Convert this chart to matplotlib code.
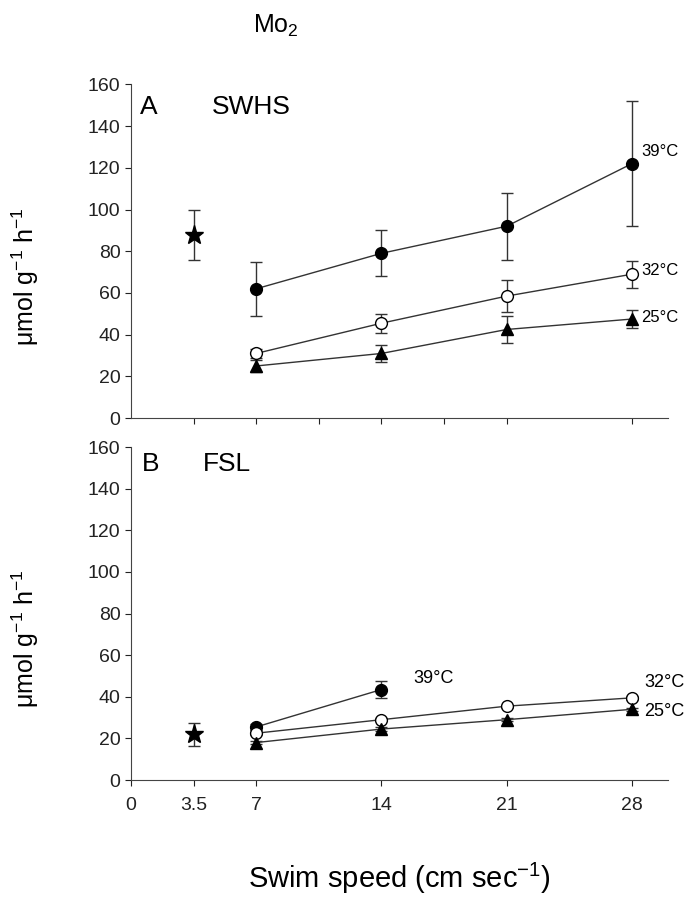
import numpy as np
import matplotlib
matplotlib.use("Agg")
import matplotlib.pyplot as plt

plt.rcParams['font.family'] = ['Liberation Sans', 'DejaVu Sans']
plt.rcParams['mathtext.fontset'] = 'custom'
plt.rcParams['mathtext.rm'] = 'Liberation Sans'
plt.rcParams['mathtext.default'] = 'rm'

speeds = [7, 14, 21, 28]

# panel A (SWHS)
a_39 = [62, 79, 92, 122]
a_39_err = [13, 11, 16, 30]
a_32 = [31, 45.5, 58.5, 69]
a_32_err = [2, 4.5, 7.5, 6.5]
a_25 = [25, 31, 42.5, 47.5]
a_25_err = [3, 4, 6.5, 4.5]
a_rest = 88
a_rest_err = 12

# panel B (FSL)
b_39_x = [7, 14]
b_39 = [25.5, 43.5]
b_39_err = [1.5, 4]
b_32 = [22.5, 29, 35.5, 39.5]
b_32_err = [0.8, 0.8, 0.8, 0.8]
b_25 = [18, 24.5, 29, 34]
b_25_err = [0.8, 0.8, 0.8, 0.8]
b_rest = 22
b_rest_err = 5.5

fig = plt.figure(figsize=(7, 9.07), dpi=100)
ax1 = fig.add_axes([0.187, 0.539, 0.767, 0.368])
ax2 = fig.add_axes([0.187, 0.140, 0.767, 0.367])

eb = dict(color='#333333', lw=1.0, capsize=4.5, capthick=1.0, elinewidth=1.0)

def series(ax, x, y, err, marker, face, size=8.5):
    ax.errorbar(x, y, yerr=err, marker=marker, mfc=face, mec='black',
                ms=size, mew=1.0, zorder=3, **eb)

ylab = r'μmol g$^{-1}$ h$^{-1}$'
for ax in (ax1, ax2):
    ax.set_xlim(0, 30)
    ax.set_ylim(0, 160)
    ax.set_yticks(np.arange(0, 161, 20))
    ax.spines['top'].set_visible(False)
    ax.spines['right'].set_visible(False)
    ax.spines['left'].set_color('#444444')
    ax.spines['bottom'].set_color('#444444')
    ax.tick_params(labelsize=14, colors='#222222', length=4)
    ax.set_ylabel(ylab, fontsize=18, ha='center', va='center')
    ax.yaxis.set_label_coords(-0.197, 0.425)

series(ax1, speeds, a_39, a_39_err, 'o', 'black')
series(ax1, speeds, a_32, a_32_err, 'o', 'white')
series(ax1, speeds, a_25, a_25_err, '^', 'black')
ax1.errorbar([3.5], [a_rest], yerr=[a_rest_err], marker='*', mfc='black',
             mec='black', ms=14, zorder=3, **eb)
ax1.set_xticks([3.5, 7, 10.5, 14, 17.5, 21, 28])
ax1.set_xticklabels([])
ax1.text(0.5, 149, 'A', fontsize=19, va='center')
ax1.text(4.5, 149, 'SWHS', fontsize=19, va='center')
ax1.text(28.5, 128, '39°C', fontsize=12, va='center')
ax1.text(28.5, 71, '32°C', fontsize=12, va='center')
ax1.text(28.5, 48, '25°C', fontsize=12, va='center')

series(ax2, b_39_x, b_39, b_39_err, 'o', 'black')
series(ax2, speeds, b_32, b_32_err, 'o', 'white')
series(ax2, speeds, b_25, b_25_err, '^', 'black')
ax2.errorbar([3.5], [b_rest], yerr=[b_rest_err], marker='*', mfc='black',
             mec='black', ms=14, zorder=3, **eb)
ax2.set_xticks([0, 3.5, 7, 14, 21, 28])
ax2.set_xticklabels(['0', '3.5', '7', '14', '21', '28'])
ax2.tick_params(axis='x', pad=8)
ax2.text(0.6, 152, 'B', fontsize=19, va='center')
ax2.text(4.0, 152, 'FSL', fontsize=19, va='center')
ax2.text(15.8, 49, '39°C', fontsize=13, va='center')
ax2.text(28.7, 47, '32°C', fontsize=13, va='center')
ax2.text(28.7, 33, '25°C', fontsize=13, va='center')
ax2.set_xlabel('Swim speed (cm sec$^{-1}$)', fontsize=21, labelpad=34)

fig.text(0.361, 0.971, 'Mo$_2$', fontsize=18, va='center')

fig.savefig('out.png', dpi=100, facecolor='white')
